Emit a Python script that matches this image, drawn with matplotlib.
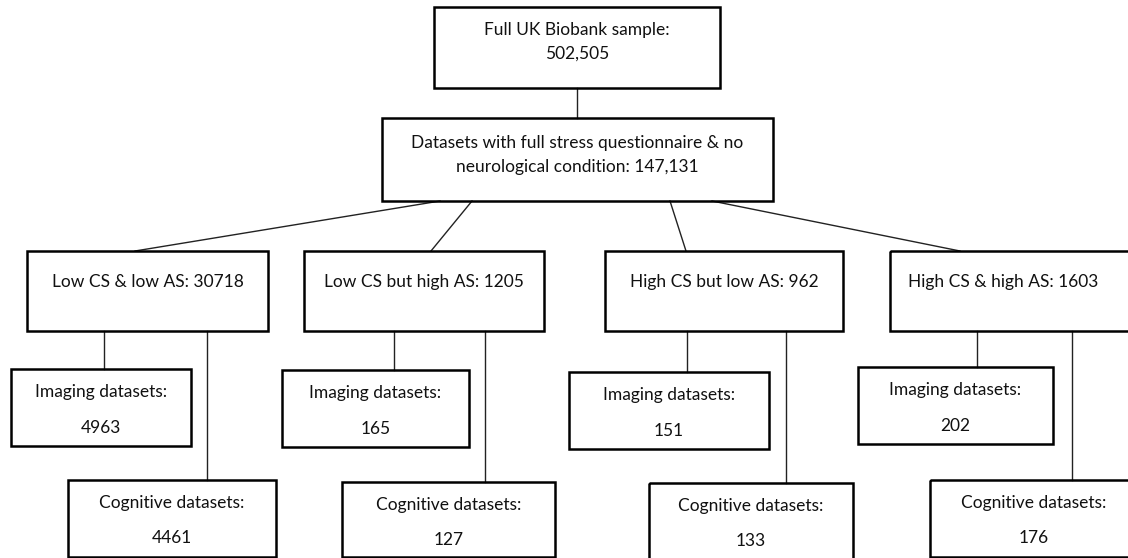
import matplotlib.pyplot as plt
from matplotlib.patches import Rectangle

# Counts shown in the flowchart
total_sample = "502,505"
screened_n = "147,131"
group_labels = ["Low CS & low AS", "Low CS but high AS", "High CS but low AS", "High CS & high AS"]
group_n = [30718, 1205, 962, 1603]
imaging_n = [4963, 165, 151, 202]
cognitive_n = [4461, 127, 133, 176]

# Layout in pixel units (x0, x1, y0, y1)
top_box = (434, 720, 7, 88)
mid_box = (382, 773, 118, 201)
group_boxes = [(27, 268, 251, 331), (304, 544, 251, 331), (605, 843, 251, 331), (890, 1140, 251, 331)]
imaging_boxes = [(11, 191, 369, 446), (282, 469, 370, 447), (569, 769, 372, 449), (858, 1053, 367, 444)]
cognitive_boxes = [(68, 276, 480, 557), (342, 555, 482, 557), (649, 853, 483, 570), (930, 1140, 480, 557)]
link_start = [440, 472, 670, 712]
link_end = [135, 431, 686, 960]
imaging_stem = [104, 394, 687, 977]
cognitive_stem = [207, 485, 786, 1072]

FONT = "Lato"
FS = 12.5

fig = plt.figure(figsize=(11.28, 5.58), dpi=100)
ax = fig.add_axes([0, 0, 1, 1])
ax.set_xlim(0, 1128)
ax.set_ylim(558, 0)
ax.axis("off")


def box(b):
    x0, x1, y0, y1 = b
    ax.add_patch(Rectangle((x0, y0), x1 - x0, y1 - y0, fill=False,
                           edgecolor="black", linewidth=1.8, zorder=3))


def line(xs, ys):
    ax.plot(xs, ys, color="#222222", linewidth=1.0, zorder=2)


def label(x, y, s):
    ax.text(x, y, s, ha="center", va="center", fontsize=FS, family=FONT, color="#111111")


# top two boxes
box(top_box)
cx = (top_box[0] + top_box[1]) / 2
label(cx, 30, "Full UK Biobank sample:")
label(cx, 54, total_sample)
line([577, 577], [top_box[3], mid_box[2]])

box(mid_box)
cx = (mid_box[0] + mid_box[1]) / 2
label(cx, 143, "Datasets with full stress questionnaire & no")
label(cx, 167, "neurological condition: " + screened_n)

for i in range(4):
    g = group_boxes[i]
    line([link_start[i], link_end[i]], [mid_box[3], g[2]])
    box(g)
    gx = (g[0] + g[1]) / 2 if i < 3 else 1003
    label(gx, 282, f"{group_labels[i]}: {group_n[i]}")

    im = imaging_boxes[i]
    line([imaging_stem[i], imaging_stem[i]], [g[3], im[2]])
    box(im)
    ix = (im[0] + im[1]) / 2
    label(ix, im[2] + 23, "Imaging datasets:")
    label(ix, im[2] + 59, str(imaging_n[i]))

    cg = cognitive_boxes[i]
    line([cognitive_stem[i], cognitive_stem[i]], [g[3], cg[2]])
    box(cg)
    cgx = (cg[0] + cg[1]) / 2 if i < 3 else 1034
    label(cgx, cg[2] + 23, "Cognitive datasets:")
    label(cgx, cg[2] + 58, str(cognitive_n[i]))

fig.savefig("out.png", dpi=100)
